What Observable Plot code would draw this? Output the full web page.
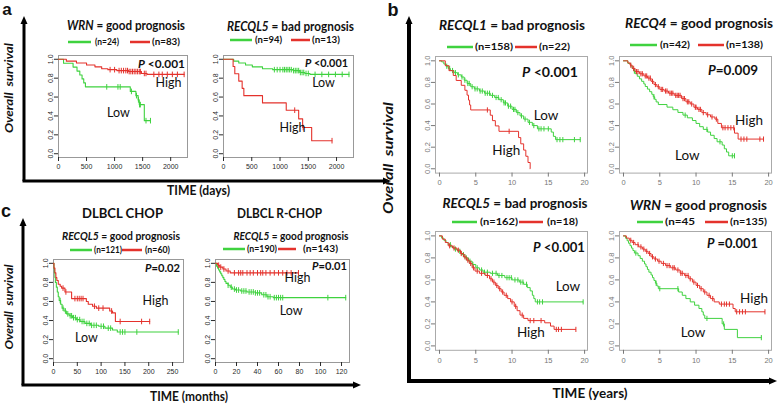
<!DOCTYPE html>
<html><head><meta charset="utf-8">
<script src="https://cdn.jsdelivr.net/npm/d3@7"></script>
<script src="https://cdn.jsdelivr.net/npm/@observablehq/plot@0.6"></script>
<style>
body{margin:0;background:#fff;}
#root{position:relative;width:778px;height:404px;overflow:hidden;background:#fff;}
#root svg{position:absolute;}
</style></head>
<body><div id="root"></div>
<script>
// ---------- tick values ----------
const yTicks = [0, 0.2, 0.4, 0.6, 0.8, 1.0];
const daysTicks = [0, 500, 1000, 1500, 2000];
const chopTicks = [0, 50, 100, 150, 200, 250];
const rchopTicks = [0, 20, 40, 60, 80, 100, 120];
const yearTicks = [0, 5, 10, 15, 20];

// ---------- panel a: WRN (days) ----------
const wrnDaysLow = [[0,1],[90,0.958],[260,0.917],[330,0.875],[380,0.833],[420,0.792],[450,0.75],[480,0.708],[1280,0.66],[1380,0.615],[1420,0.57],[1440,0.52],[1530,0.35]];
const wrnDaysLowCens = [860,1060,1100,1300,1390,1425,1445,1460,1560,1640];
const wrnDaysHigh = [[0,1],[140,0.98],[320,0.96],[500,0.94],[650,0.92],[770,0.90],[880,0.89],[1040,0.88],[1250,0.87],[1480,0.85],[1580,0.84]];
const wrnDaysHighCens = [920,1000,1080,1120,1160,1200,1230,1260,1290,1320,1350,1380,1410,1440,1460,1530,1560,1700,1790,1850,1940,2030,2120,2240];

// ---------- panel a: RECQL5 (days) ----------
const l5DaysLow = [[0,1],[180,0.98],[270,0.96],[390,0.94],[510,0.92],[690,0.90],[870,0.89],[1230,0.88],[1350,0.86],[1440,0.85],[1530,0.84]];
const l5DaysLowCens = [900,950,1000,1050,1080,1110,1140,1170,1200,1240,1270,1300,1330,1360,1390,1420,1460,1500,1620,1740,1860,1980,2100,2220];
const l5DaysHigh = [[0,1],[170,0.923],[200,0.846],[270,0.769],[330,0.692],[360,0.615],[690,0.538],[1110,0.461],[1330,0.369],[1400,0.277],[1560,0.138]];
const l5DaysHighCens = [1260,1410,1920];

// ---------- panel c: DLBCL CHOP (months) ----------
const chopLow = [[0,1],[1,0.95],[2,0.90],[3,0.85],[4,0.80],[6,0.75],[8,0.70],[10,0.65],[12,0.61],[15,0.57],[18,0.53],[22,0.50],[27,0.47],[33,0.45],[40,0.43],[48,0.41],[56,0.39],[66,0.37],[78,0.35],[95,0.34],[108,0.32],[124,0.30],[134,0.28]];
const chopLowCens = [14,20,25,30,35,38,42,46,50,55,60,64,70,75,80,85,90,100,105,115,120,140,145,150,175,262];
const chopHigh = [[0,1],[1,0.95],[3,0.90],[5,0.85],[7,0.82],[10,0.78],[14,0.76],[17,0.74],[24,0.70],[38,0.63],[69,0.60],[73,0.57],[82,0.55],[90,0.53],[118,0.50],[124,0.48],[130,0.39]];
const chopHighCens = [20,26,45,50,54,58,62,86,95,104,122,140,185,202];

// ---------- panel c: DLBCL R-CHOP (months) ----------
const rchopLow = [[0,1],[1,0.97],[2,0.95],[3,0.93],[4,0.91],[5,0.89],[6,0.87],[7,0.85],[8,0.83],[9,0.81],[10,0.79],[12,0.77],[14,0.75],[16,0.73],[19,0.72],[24,0.71],[30,0.70],[38,0.69],[44,0.67],[49,0.65],[55,0.64]];
const rchopLowCens = [12,15,18,20,22,25,27,29,32,34,36,38,40,42,46,48,50,52,56,58,60,62,64,107,124];
const rchopHigh = [[0,1],[2,0.98],[4,0.96],[7,0.94],[10,0.92],[14,0.90]];
const rchopHighCens = [3,5,8,12,18,22,24,26,30,33,36,40,43,45,48,52,56,60,64,68,72,79];

// ---------- panel b: RECQL1 (years) ----------
const l1Low = [[0,1],[0.3,0.99],[0.6,0.97],[0.9,0.95],[1.2,0.93],[1.5,0.91],[2.0,0.89],[2.5,0.87],[3.0,0.85],[3.4,0.82],[3.8,0.79],[4.3,0.76],[4.8,0.74],[5.5,0.72],[6.2,0.70],[7.0,0.68],[7.6,0.66],[8.2,0.64],[8.8,0.61],[9.4,0.58],[10.0,0.55],[10.6,0.52],[11.1,0.49],[11.6,0.46],[12.2,0.43],[12.8,0.40],[13.5,0.37],[15.4,0.34],[15.7,0.30],[16.0,0.27]];
const l1LowCens = [1.0,1.4,1.8,2.2,2.6,3.1,3.5,3.9,4.1,4.5,4.9,5.2,5.6,5.9,6.3,6.6,6.9,7.3,7.8,8.1,8.5,8.9,9.1,9.5,9.8,10.2,10.4,10.8,11.3,11.8,12.4,13.0,13.7,14.0,14.4,15.0,16.2,16.6,17.0,18.6,19.4];
const l1High = [[0,1],[0.8,0.955],[1.3,0.909],[1.9,0.864],[2.3,0.818],[3.0,0.773],[3.5,0.727],[3.8,0.682],[4.0,0.636],[4.15,0.591],[4.3,0.545],[7.0,0.496],[7.3,0.446],[7.7,0.397],[8.2,0.347],[10.9,0.289],[11.2,0.231],[11.6,0.173],[11.9,0.116],[12.2,0.058],[12.5,0]];
const l1HighCens = [6.6,9.6];

// ---------- panel b: RECQ4 (years) ----------
const q4Low = [[0,1],[0.6,0.976],[1.0,0.952],[1.2,0.929],[1.4,0.905],[1.6,0.881],[1.9,0.857],[2.2,0.833],[2.5,0.81],[2.8,0.786],[3.0,0.762],[3.3,0.738],[3.6,0.714],[3.9,0.69],[4.1,0.667],[4.3,0.643],[4.5,0.619],[4.8,0.595],[6.0,0.571],[6.8,0.547],[7.5,0.522],[8.2,0.497],[8.8,0.472],[9.5,0.447],[10.0,0.42],[10.5,0.39],[11.0,0.365],[11.6,0.34],[12.0,0.31],[12.5,0.28],[12.9,0.25],[13.6,0.22],[13.9,0.185],[14.2,0.155],[14.5,0.12]];
const q4LowCens = [1.5,4.2,8.5,11.5,13.3,15.0,15.3];
const q4High = [[0,1],[0.6,0.98],[0.9,0.96],[1.2,0.93],[1.6,0.90],[2.2,0.88],[2.8,0.86],[3.3,0.84],[3.8,0.81],[4.2,0.78],[4.6,0.76],[5.0,0.735],[5.6,0.72],[6.2,0.70],[7.0,0.68],[8.0,0.65],[8.6,0.62],[9.2,0.60],[9.7,0.57],[10.2,0.55],[10.8,0.52],[11.4,0.50],[12.0,0.48],[12.6,0.46],[13.0,0.42],[13.5,0.38],[15.3,0.33],[15.8,0.275]];
const q4HighCens = [1.0,1.4,1.8,2.0,2.4,2.6,3.0,3.2,3.5,3.7,4.0,4.4,4.8,5.2,5.4,5.8,6.0,6.4,6.6,6.8,7.2,7.4,7.6,7.8,8.2,8.4,8.8,9.0,9.4,9.9,10.0,10.4,10.6,11.0,11.6,12.2,12.8,13.7,14.0,14.4,14.8,15.2,16.2,16.6,17.0,18.8,19.3];

// ---------- panel b: RECQL5 (years) ----------
const l5YrLow = [[0,1],[0.3,0.98],[0.6,0.96],[0.9,0.94],[1.2,0.92],[1.6,0.90],[2.0,0.88],[2.5,0.86],[3.0,0.83],[3.5,0.80],[4.0,0.77],[4.5,0.74],[5.0,0.71],[5.5,0.69],[6.0,0.67],[7.0,0.66],[8.0,0.64],[9.0,0.62],[10.0,0.60],[11.0,0.58],[11.6,0.56],[12.1,0.53],[12.5,0.50],[12.8,0.46],[13.0,0.43],[13.2,0.40]];
const l5YrLowCens = [1.5,2.2,2.8,3.3,3.7,4.2,4.6,5.2,5.8,6.2,6.6,7.3,7.8,8.2,8.6,9.3,9.6,9.9,10.4,10.8,11.2,11.5,12.0,13.5,13.8,14.2,19.8];
const l5YrHigh = [[0,1],[0.4,0.97],[0.8,0.94],[1.2,0.91],[1.8,0.89],[2.4,0.87],[2.9,0.84],[3.3,0.81],[3.7,0.78],[4.1,0.75],[4.5,0.71],[4.9,0.68],[5.5,0.66],[6.3,0.64],[6.9,0.61],[7.3,0.58],[7.7,0.55],[8.1,0.52],[8.5,0.49],[8.9,0.46],[9.4,0.43],[9.8,0.40],[10.3,0.36],[10.7,0.32],[11.1,0.28],[11.6,0.25],[12.2,0.23],[14.5,0.21],[15.3,0.18],[15.8,0.15]];
const l5YrHighCens = [1.4,2.0,2.6,3.0,3.5,3.9,4.3,4.7,5.2,5.8,6.6,7.1,7.5,7.9,8.3,8.7,9.2,10.0,10.5,11.4,12.5,13.0,14.0,16.1,16.4,16.8,18.8];

// ---------- panel b: WRN (years) ----------
const wrnYrLow = [[0,1],[0.3,0.978],[0.5,0.956],[0.7,0.933],[0.9,0.911],[1.1,0.889],[1.3,0.867],[1.5,0.844],[2.0,0.82],[2.3,0.795],[2.6,0.77],[2.9,0.745],[3.1,0.72],[3.3,0.695],[3.5,0.67],[3.8,0.645],[4.0,0.62],[4.2,0.595],[4.4,0.57],[4.6,0.545],[4.8,0.52],[7.6,0.49],[8.1,0.46],[8.6,0.43],[9.2,0.40],[9.8,0.37],[10.4,0.34],[10.8,0.31],[11.0,0.28],[11.2,0.25],[13.6,0.20],[13.9,0.15],[15.7,0.075]];
const wrnYrLowCens = [1.7,4.5,5.0,7.5,11.5,13.8,19.0];
const wrnYrHigh = [[0,1],[0.4,0.98],[0.8,0.96],[1.2,0.94],[1.6,0.92],[2.1,0.90],[2.6,0.88],[3.0,0.86],[3.4,0.84],[3.8,0.81],[4.2,0.79],[4.7,0.77],[5.2,0.75],[5.8,0.73],[6.5,0.71],[7.2,0.69],[7.8,0.66],[8.4,0.64],[9.0,0.61],[9.5,0.58],[10.0,0.55],[10.5,0.52],[11.0,0.49],[11.5,0.46],[12.0,0.43],[12.5,0.40],[13.2,0.38],[15.1,0.34],[15.4,0.31]];
const wrnYrHighCens = [1.0,1.4,2.0,2.4,2.8,3.2,3.6,4.0,4.4,4.9,5.5,6.0,6.3,6.8,7.0,7.5,7.9,8.1,8.6,8.9,9.2,9.7,10.2,10.7,11.2,11.8,12.3,13.5,13.9,14.2,14.6,15.6,16.0,16.4,16.8,19.5];

// ---------- drawing ----------
const GREEN = "#3fd23f", RED = "#e4322c";
const FONT = "Lato, 'Open Sans', sans-serif";
const root = document.getElementById("root");

const vtick = {draw(ctx, size){ const r = Math.sqrt(size/Math.PI); ctx.moveTo(0,-r); ctx.lineTo(0,r); }};
function extend(steps, cens){
  const last = steps[steps.length-1];
  const end = Math.max(last[0], ...cens);
  return [...steps, [end, last[1]]];
}
function survAt(steps, t){ let s = 1; for (const [tt, ss] of steps) if (tt <= t) s = ss; return s; }
function curveMarks(steps, cens, color, b){
  return [
    Plot.line(extend(steps, cens), {x: d => d[0], y: d => d[1], curve: "step-after", stroke: color, strokeWidth: b ? 1 : 1.1}),
    Plot.dot(cens.map(t => [t, survAt(steps, t)]), {x: d => d[0], y: d => d[1], symbol: vtick, r: b ? 2.6 : 2.8, stroke: color, strokeWidth: 1, fill: "none"})
  ];
}

const panels = [
  {box:[58,55,187,157], xd:[0,2300], xt:daysTicks, low:[wrnDaysLow,wrnDaysLowCens], high:[wrnDaysHigh,wrnDaysHighCens], notes:[["High",1960,0.745],["Low",1070,0.436]], b:false},
  {box:[223,55,353,157], xd:[0,2300], xt:daysTicks, low:[l5DaysLow,l5DaysLowCens], high:[l5DaysHigh,l5DaysHighCens], notes:[["Low",1770,0.745],["High",1220,0.27]], b:false},
  {box:[53,259,183,362], xd:[0,273], xt:chopTicks, low:[chopLow,chopLowCens], high:[chopHigh,chopHighCens], notes:[["High",214,0.61],["Low",69,0.212]], b:false},
  {box:[215,259,349,362], xd:[0,127.6], xt:rchopTicks, low:[rchopLow,rchopLowCens], high:[rchopHigh,rchopHighCens], notes:[["High",78,0.85],["Low",72,0.505]], b:false},
  {box:[435,55.7,587,172.3], xd:[-0.55,20.4], xt:yearTicks, low:[l1Low,l1LowCens], high:[l1High,l1HighCens], notes:[["Low",14.7,0.49],["High",9.2,0.17]], b:true},
  {box:[619,55.7,771,172.3], xd:[-0.55,20.4], xt:yearTicks, low:[q4Low,q4LowCens], high:[q4High,q4HighCens], notes:[["High",17.3,0.45],["Low",8.8,0.12]], b:true},
  {box:[435,230.6,587,349.4], xd:[-0.55,20.4], xt:yearTicks, low:[l5YrLow,l5YrLowCens], high:[l5YrHigh,l5YrHighCens], notes:[["Low",17.7,0.54],["High",12.6,0.12]], b:true},
  {box:[619,230.6,771,349.4], xd:[-0.55,20.4], xt:yearTicks, low:[wrnYrLow,wrnYrLowCens], high:[wrnYrHigh,wrnYrHighCens], notes:[["High",18.0,0.43],["Low",9.6,0.12]], b:true}
];

for (const p of panels) {
  const [L,T,R,B] = p.box;
  const mL = 24, mR = 4, mT = 4, mB = 22;
  const chart = Plot.plot({
    width: R-L+mL+mR, height: B-T+mT+mB,
    marginLeft: mL, marginRight: mR, marginTop: mT, marginBottom: mB,
    x: {domain: p.xd}, y: {domain: [-0.04, 1.04]},
    style: {background: "transparent", fontFamily: "'Liberation Sans', Arial, sans-serif", fontSize: p.b ? "7.5px" : "7px", color: p.b ? "#777" : "#2a2a2a", overflow: "visible"},
    marks: [
      Plot.frame({stroke: p.b ? "#aaa" : "#999"}),
      Plot.axisX({ticks: p.xt, tickSize: 4, tickPadding: 3, label: null, tickFormat: d => String(d)}),
      Plot.axisY({ticks: yTicks, tickSize: 4, tickPadding: 2, tickRotate: -90, label: null, tickFormat: d3.format(".1f")}),
      ...curveMarks(p.low[0], p.low[1], GREEN, p.b),
      ...curveMarks(p.high[0], p.high[1], RED, p.b),
      Plot.text(p.notes, {x: d => d[1], y: d => d[2], text: d => d[0], fontFamily: FONT, fontSize: p.b ? 13.5 : 12.5, fill: "#111"})
    ]
  });
  chart.style.left = (L-mL) + "px";
  chart.style.top = (T-mT) + "px";
  root.appendChild(chart);
}

// ---------- overlay: frames, titles, legends ----------
const NS = "http://www.w3.org/2000/svg";
const ov = document.createElementNS(NS, "svg");
ov.setAttribute("width", 778); ov.setAttribute("height", 404);
ov.style.left = "0px"; ov.style.top = "0px"; ov.style.pointerEvents = "none";
root.appendChild(ov);
function el(tag, attrs){ const e = document.createElementNS(NS, tag); for (const k in attrs) e.setAttribute(k, attrs[k]); ov.appendChild(e); return e; }
function label(x, y, parts, o = {}){
  const {size = 12, weight = 700, anchor = "middle", w = null, rotate = 0, family = FONT, fill = "#111", style = "normal"} = o;
  const t = el("text", {x, y, "font-size": size, "font-weight": weight, "text-anchor": anchor, "dominant-baseline": "central", "font-family": family, fill, "font-style": style});
  t.style.whiteSpace = "pre";
  if (rotate) t.setAttribute("transform", `rotate(${rotate},${x},${y})`);
  for (const part of parts) {
    const [s, it] = Array.isArray(part) ? part : [part, false];
    const ts = document.createElementNS(NS, "tspan");
    if (it) ts.setAttribute("font-style", "italic");
    ts.textContent = s; t.appendChild(ts);
  }
  if (w) { t.setAttribute("textLength", w); t.setAttribute("lengthAdjust", "spacingAndGlyphs"); }
}
function arrowFrame(x0, yTop, yBot, xRight, sw){
  el("line", {x1: x0, y1: yTop + 6, x2: x0, y2: yBot, stroke: "#000", "stroke-width": sw});
  el("line", {x1: x0 - sw/2, y1: yBot, x2: xRight - 6, y2: yBot, stroke: "#000", "stroke-width": sw});
  el("polygon", {points: `${x0},${yTop} ${x0-3.5},${yTop+8} ${x0+3.5},${yTop+8}`, fill: "#000"});
  el("polygon", {points: `${xRight},${yBot} ${xRight-8},${yBot-3.5} ${xRight-8},${yBot+3.5}`, fill: "#000"});
}
arrowFrame(24, 16, 181, 391, 3);
arrowFrame(23, 218, 385, 361, 3);
arrowFrame(409, 16, 381, 777, 4);

const AR = "Arial, 'Liberation Sans', sans-serif";
label(7, 9, ["a"], {size: 17, family: AR});
label(393, 10, ["b"], {size: 18, family: AR});
label(6, 211, ["c"], {size: 18, family: AR});

label(198.5, 190, ["TIME (days)"], {size: 13, w: 63});
label(189, 395.5, ["TIME (months)"], {size: 13, w: 78});
label(590, 393, ["TIME (years)"], {size: 13, w: 75});
label(8, 88, ["Overall  survival"], {size: 12, rotate: -90, w: 90, style: "italic"});
label(8, 307, ["Overall  survival"], {size: 12, rotate: -90, w: 85, style: "italic"});
label(388, 158, ["Overall  survival"], {size: 13, rotate: -90, w: 112, style: "italic"});

// titles
label(126, 25, [["WRN", true], " = good prognosis"], {size: 12.5, w: 118});
label(290.5, 26, [["RECQL5", true], " = bad prognosis"], {size: 12.5, w: 127});
label(122.5, 212, ["DLBCL CHOP"], {size: 14, w: 81});
label(121, 234.5, [["RECQL5", true], " = good prognosis"], {size: 11, w: 118});
label(279.5, 212, ["DLBCL R-CHOP"], {size: 14, w: 85});
label(291, 234.5, [["RECQL5", true], " = good prognosis"], {size: 10.8, w: 115});
label(512, 25, [["RECQL1", true], " = bad prognosis"], {size: 13.5, w: 146});
label(699, 23, [["RECQ4", true], " = good prognosis"], {size: 13.5, w: 148});
label(515, 203, [["RECQL5", true], " = bad prognosis"], {size: 13.5, w: 145});
label(698.5, 205, [["WRN", true], " = good prognosis"], {size: 13.5, w: 137});

// legends: [y, green line x1,x2, green text, tx1,tx2, red line x1,x2, red text, tx1,tx2, font]
const legends = [
  [42, 68,91, "(n=24)", 95,119, 130,150, "(n=83)", 152,180, 9],
  [40, 230,252, "(n=94)", 255,282, 291,310, "(n=13)", 312,340, 9],
  [250, 70,92, "(n=121)", 94,122, 122,142, "(n=60)", 145,170, 9],
  [249, 223,245, "(n=190)", 247,277, 278,296, "(n=143)", 303,338, 9],
  [47, 447,473, "(n=158)", 475,513, 515,537, "(n=22)", 539,570, 10],
  [45, 630,657, "(n=42)", 660,690, 698,724, "(n=138)", 726,763, 10],
  [222, 452,477, "(n=162)", 480,518, 519,543, "(n=18)", 547,578, 10],
  [222, 637,663, "(n=45", 665,695, 705,728, "(n=135)", 730,767, 10]
];
for (const [y, g1, g2, gt, gt1, gt2, r1, r2, rt, rt1, rt2, fs] of legends) {
  el("line", {x1: g1, y1: y, x2: g2, y2: y, stroke: GREEN, "stroke-width": 2.5});
  el("line", {x1: r1, y1: y, x2: r2, y2: y, stroke: RED, "stroke-width": 2.5});
  label(gt1, y - 1, [gt], {size: fs, anchor: "start", w: gt2 - gt1});
  label(rt1, y - 1, [rt], {size: fs, anchor: "start", w: rt2 - rt1});
}

// p-values
const pvals = [
  [138, 63, " <0.001", 47, 11.5], [305, 62, " <0.001", 43, 11.5],
  [145, 267, "=0.02", 35, 11.5], [312, 265, "=0.01", 35, 11.5],
  [522, 72, " <0.001", 56, 13], [708, 70, "=0.009", 50, 13],
  [533, 247, " <0.001", 52, 13], [707, 243, " =0.001", 51, 13]
];
for (const [x, y, s, w, fs] of pvals) label(x, y, [["P", true], s], {size: fs, anchor: "start", w});
</script>
</body></html>
